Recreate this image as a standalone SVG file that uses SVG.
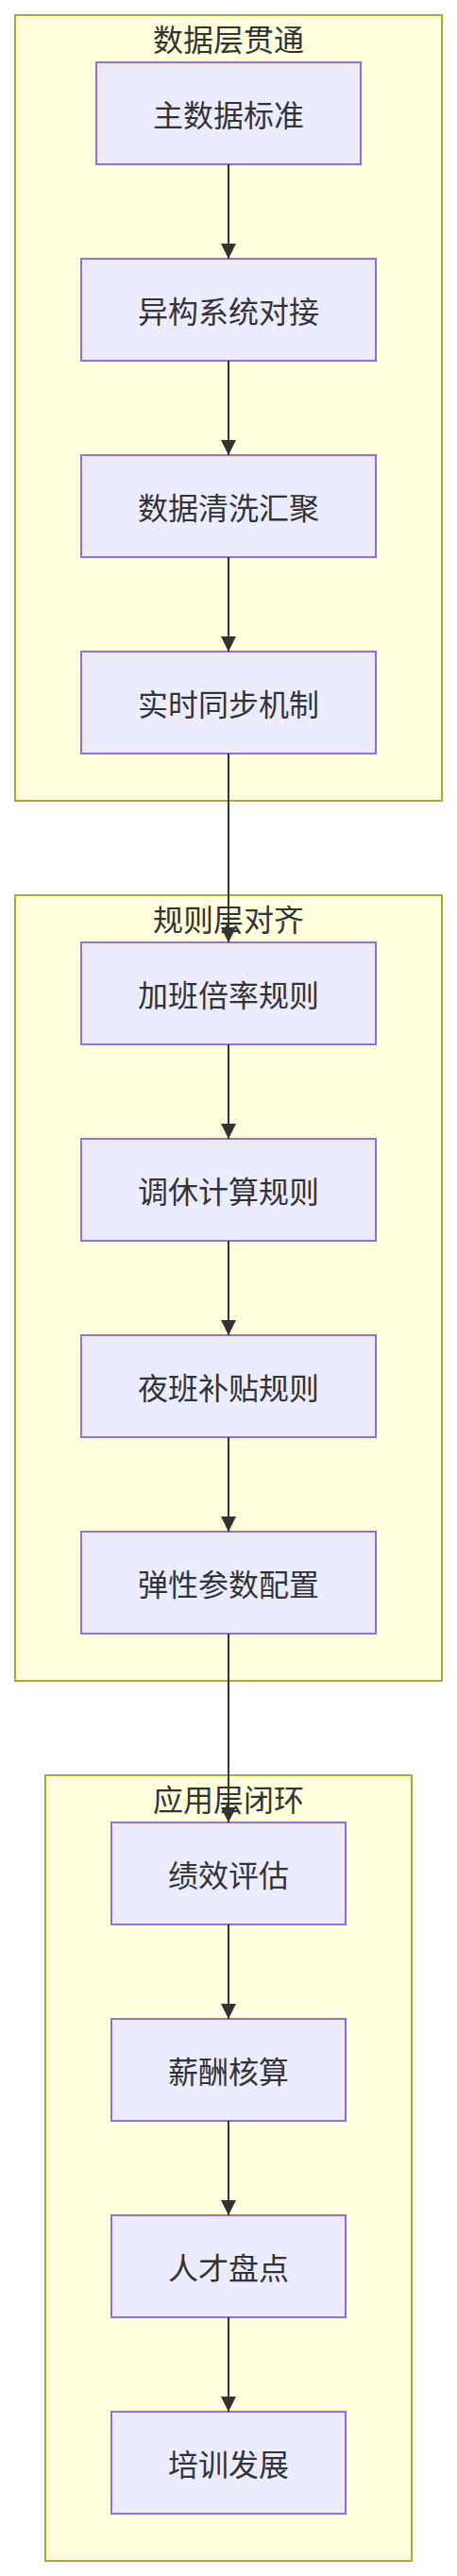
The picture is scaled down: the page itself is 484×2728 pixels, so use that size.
<svg xmlns="http://www.w3.org/2000/svg" width="484" height="2728" viewBox="0 0 484 2728">
<style>
.cluster rect{fill:#ffffde;stroke:#aaaa33;stroke-width:2}
.node rect{fill:#ECECFF;stroke:#9370DB;stroke-width:2}
text{font-family:"Noto Sans CJK SC","Noto Sans",sans-serif;font-size:32px;fill:#333333;text-anchor:middle;dominant-baseline:central}
.edge{stroke:#333333;stroke-width:2;fill:none}
</style>
<defs>
<marker id="arrow" viewBox="0 0 10 10" refX="10" refY="5" markerWidth="16" markerHeight="16" markerUnits="userSpaceOnUse" orient="auto">
<path d="M0,0 L10,5 L0,10 z" fill="#333333"/>
</marker>
</defs>
<rect width="484" height="2728" fill="#ffffff"/>
<g id="cluster-data" class="cluster"><rect x="16" y="16" width="452" height="832"/><text x="242" y="40">数据层贯通</text></g>
<g id="cluster-rule" class="cluster"><rect x="16" y="948" width="452" height="832"/><text x="242" y="972">规则层对齐</text></g>
<g id="cluster-app" class="cluster"><rect x="48" y="1880" width="388" height="832"/><text x="242" y="1904">应用层闭环</text></g>
<g id="n1" class="node"><rect x="102" y="66" width="280" height="108"/><text x="242" y="120">主数据标准</text></g>
<g id="n2" class="node"><rect x="86" y="274" width="312" height="108"/><text x="242" y="328">异构系统对接</text></g>
<g id="n3" class="node"><rect x="86" y="482" width="312" height="108"/><text x="242" y="536">数据清洗汇聚</text></g>
<g id="n4" class="node"><rect x="86" y="690" width="312" height="108"/><text x="242" y="744">实时同步机制</text></g>
<g id="n5" class="node"><rect x="86" y="998" width="312" height="108"/><text x="242" y="1052">加班倍率规则</text></g>
<g id="n6" class="node"><rect x="86" y="1206" width="312" height="108"/><text x="242" y="1260">调休计算规则</text></g>
<g id="n7" class="node"><rect x="86" y="1414" width="312" height="108"/><text x="242" y="1468">夜班补贴规则</text></g>
<g id="n8" class="node"><rect x="86" y="1622" width="312" height="108"/><text x="242" y="1676">弹性参数配置</text></g>
<g id="n9" class="node"><rect x="118" y="1930" width="248" height="108"/><text x="242" y="1984">绩效评估</text></g>
<g id="n10" class="node"><rect x="118" y="2138" width="248" height="108"/><text x="242" y="2192">薪酬核算</text></g>
<g id="n11" class="node"><rect x="118" y="2346" width="248" height="108"/><text x="242" y="2400">人才盘点</text></g>
<g id="n12" class="node"><rect x="118" y="2554" width="248" height="108"/><text x="242" y="2608">培训发展</text></g>
<g id="connectors">
<line class="edge" x1="242" y1="174" x2="242" y2="274" marker-end="url(#arrow)"/>
<line class="edge" x1="242" y1="382" x2="242" y2="482" marker-end="url(#arrow)"/>
<line class="edge" x1="242" y1="590" x2="242" y2="690" marker-end="url(#arrow)"/>
<line class="edge" x1="242" y1="798" x2="242" y2="998" marker-end="url(#arrow)"/>
<line class="edge" x1="242" y1="1106" x2="242" y2="1206" marker-end="url(#arrow)"/>
<line class="edge" x1="242" y1="1314" x2="242" y2="1414" marker-end="url(#arrow)"/>
<line class="edge" x1="242" y1="1522" x2="242" y2="1622" marker-end="url(#arrow)"/>
<line class="edge" x1="242" y1="1730" x2="242" y2="1930" marker-end="url(#arrow)"/>
<line class="edge" x1="242" y1="2038" x2="242" y2="2138" marker-end="url(#arrow)"/>
<line class="edge" x1="242" y1="2246" x2="242" y2="2346" marker-end="url(#arrow)"/>
<line class="edge" x1="242" y1="2454" x2="242" y2="2554" marker-end="url(#arrow)"/>
</g>
</svg>
